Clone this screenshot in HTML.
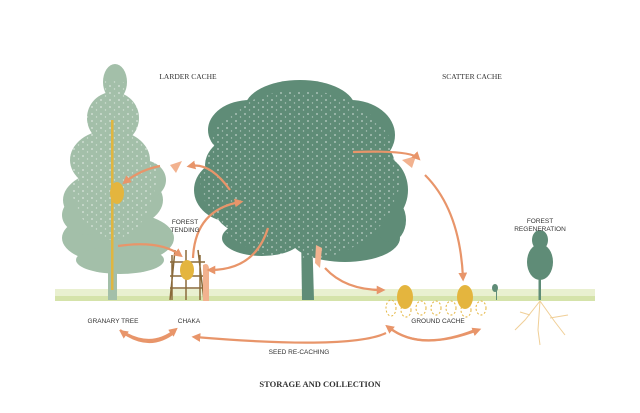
<!DOCTYPE html>
<html><head><meta charset="utf-8"><style>
html,body{margin:0;padding:0;background:#fff;}
svg{display:block}
.s{font-family:"Liberation Sans",sans-serif;font-size:6.5px;fill:#333;}
.t{font-family:"Liberation Serif",serif;fill:#333;}
</style></head><body>
<svg width="640" height="413" viewBox="0 0 640 413" xmlns="http://www.w3.org/2000/svg">
<defs>
<marker id="a" viewBox="0 0 10 10" refX="6" refY="5" markerWidth="4" markerHeight="4" orient="auto"><path d="M0,0 L10,5 L0,10 z" fill="#e8956a"/></marker>
<pattern id="sp" width="9" height="7" patternUnits="userSpaceOnUse">
<circle cx="2" cy="2" r="0.9" fill="#fff" opacity="0.6"/><circle cx="6.5" cy="5" r="0.7" fill="#fff" opacity="0.5"/>
</pattern>
</defs>
<!-- grass -->
<rect x="55" y="289" width="540" height="12" fill="#e4ecc4" opacity="0.8"/>
<rect x="55" y="296" width="540" height="5" fill="#cfe0a0" opacity="0.8"/>
<!-- left pine tree -->
<g fill="#a3bfa9">
<ellipse cx="115" cy="82" rx="12" ry="18"/>
<ellipse cx="113" cy="118" rx="26" ry="26"/>
<ellipse cx="110" cy="160" rx="40" ry="30"/>
<ellipse cx="113" cy="200" rx="50" ry="30"/>
<ellipse cx="118" cy="238" rx="56" ry="26"/>
<ellipse cx="88" cy="215" rx="26" ry="20"/>
<ellipse cx="142" cy="180" rx="24" ry="20"/>
<ellipse cx="120" cy="260" rx="44" ry="14"/>
<rect x="108" y="250" width="9" height="50"/>
</g>
<g fill="url(#sp)">
<ellipse cx="113" cy="160" rx="45" ry="80"/>
</g>
<rect x="111" y="120" width="2.5" height="170" fill="#e0b640"/>
<!-- middle tree -->
<g fill="#5f8c77">
<ellipse cx="300" cy="108" rx="55" ry="28"/>
<ellipse cx="250" cy="130" rx="42" ry="30"/>
<ellipse cx="350" cy="135" rx="45" ry="35"/>
<ellipse cx="300" cy="165" rx="95" ry="45"/>
<ellipse cx="232" cy="190" rx="38" ry="32"/>
<ellipse cx="378" cy="190" rx="30" ry="35"/>
<ellipse cx="300" cy="210" rx="85" ry="35"/>
<ellipse cx="345" cy="238" rx="55" ry="24"/>
<ellipse cx="262" cy="238" rx="40" ry="18"/>
<ellipse cx="390" cy="220" rx="16" ry="22"/>
<path d="M301 230 L312 230 L314 300 L302 300 Z"/>
</g>
<ellipse cx="300" cy="175" rx="100" ry="85" fill="url(#sp)"/>
<!-- right small tree -->
<g fill="#5f8c77">
<ellipse cx="540" cy="262" rx="13" ry="18"/>
<ellipse cx="540" cy="240" rx="8" ry="10"/>
<rect x="538.5" y="262" width="2.5" height="38"/>
<ellipse cx="495" cy="288" rx="3" ry="4"/>
<rect x="496" y="288" width="1" height="12"/>
</g>
<g stroke="#f0cf97" stroke-width="1" fill="none">
<path d="M540 301 L525 320 L515 330 M540 301 L555 322 L565 335 M540 301 L538 330 L540 345 M530 315 L520 312 M550 318 L568 315"/>
</g>
<!-- chaka -->
<g stroke="#8a6a3a" stroke-width="1.5" fill="none">
<path d="M172 300 L172 255 M200 300 L200 255 M186 300 L186 250 M170 262 L205 262 M170 276 L205 276 M170 288 L205 288 M175 250 L170 300 M198 250 L204 300"/>
</g>
<ellipse cx="187" cy="270" rx="7" ry="10" fill="#e4b53e"/>
<ellipse cx="117" cy="193" rx="7" ry="11" fill="#e4b53e"/>
<path d="M203 265 q5 -3 6 3 l0 33 l-6 0 z" fill="#f2b28f"/>
<path d="M316 245 l6 3 l-2 20 l-5 -5 z" fill="#f2b28f"/>
<path d="M170 165 l12 -4 l-6 12 z" fill="#f2b28f"/>
<path d="M402 160 l14 -4 l-4 12 z" fill="#f2b28f"/>
<!-- ground acorns -->
<ellipse cx="405" cy="297" rx="8" ry="12" fill="#e4b53e"/>
<ellipse cx="465" cy="297" rx="8" ry="12" fill="#e4b53e"/>
<g fill="none" stroke="#e4b53e" stroke-width="1" stroke-dasharray="2,2">
<ellipse cx="391" cy="308" rx="5" ry="8"/><ellipse cx="406" cy="310" rx="5" ry="7"/>
<ellipse cx="421" cy="308" rx="5" ry="7"/><ellipse cx="436" cy="308" rx="5" ry="7"/>
<ellipse cx="451" cy="308" rx="5" ry="7"/><ellipse cx="466" cy="310" rx="5" ry="7"/>
<ellipse cx="481" cy="308" rx="5" ry="7"/>
</g>
<!-- arrows -->
<g fill="none" stroke="#e8956a" stroke-width="2.2" marker-end="url(#a)">
<path d="M160 166 Q140 170 125 182"/>
<path d="M230 190 Q210 162 190 166"/>
<path d="M118 246 Q160 240 180 255"/>
<path d="M193 258 Q195 210 240 202"/>
<path d="M268 228 Q255 270 210 270"/>
<path d="M353 152 Q410 150 418 158"/>
<path d="M425 175 Q460 210 463 278"/>
<path d="M325 268 Q345 290 382 290"/>
<path d="M120 330 Q150 350 175 330" />
<path d="M175 332 Q150 352 122 332"/>
<path d="M386 333 Q350 350 195 337"/>
<path d="M390 328 Q420 352 478 330"/>
<path d="M475 330 Q420 352 388 327"/>
</g>
<!-- labels -->
<text class="t" x="188" y="79" font-size="7.5" text-anchor="middle">LARDER CACHE</text>
<text class="t" x="472" y="79" font-size="7.5" text-anchor="middle">SCATTER CACHE</text>
<text class="t" x="320" y="387" font-size="8.5" text-anchor="middle" font-weight="bold">STORAGE AND COLLECTION</text>
<text class="s" x="185" y="224" text-anchor="middle">FOREST</text>
<text class="s" x="185" y="232" text-anchor="middle">TENDING</text>
<text class="s" x="540" y="223" text-anchor="middle">FOREST</text>
<text class="s" x="540" y="231" text-anchor="middle">REGENERATION</text>
<text class="s" x="113" y="323" text-anchor="middle">GRANARY TREE</text>
<text class="s" x="189" y="323" text-anchor="middle">CHAKA</text>
<text class="s" x="299" y="354" text-anchor="middle">SEED RE-CACHING</text>
<text class="s" x="438" y="323" text-anchor="middle">GROUND CACHE</text>
</svg>
</body></html>
